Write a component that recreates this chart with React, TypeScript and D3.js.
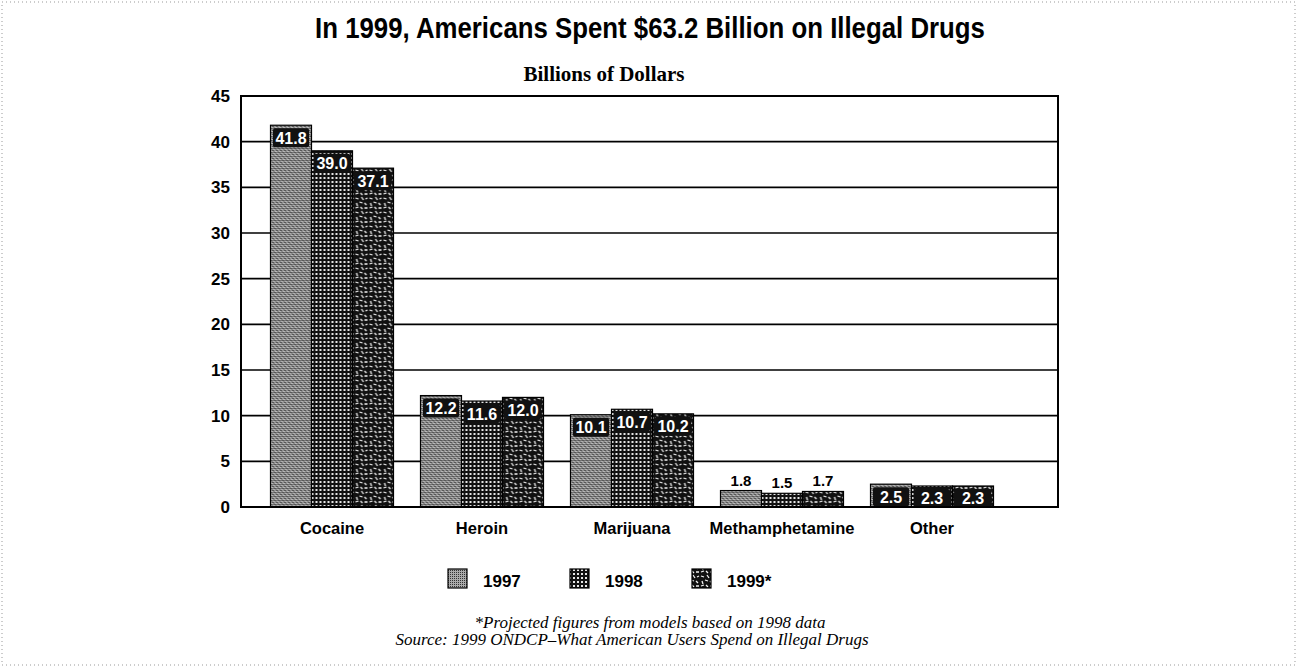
import React from "react";
import * as d3 from "d3";

const categories = ["Cocaine", "Heroin", "Marijuana", "Methamphetamine", "Other"];
const years = ["1997", "1998", "1999*"];
const values1997 = [41.8, 12.2, 10.1, 1.8, 2.5];
const values1998 = [39.0, 11.6, 10.7, 1.5, 2.3];
const values1999 = [37.1, 12.0, 10.2, 1.7, 2.3];
const yTicks = [0, 5, 10, 15, 20, 25, 30, 35, 40, 45];
const title = "In 1999, Americans Spent $63.2 Billion on Illegal Drugs";
const subtitle = "Billions of Dollars";
const note1 = "*Projected figures from models based on 1998 data";
const note2 = "Source:  1999 ONDCP\u2013What American Users Spend on Illegal Drugs";

const W = 1297;
const H = 667;
const L = 241, R = 1058, T = 96, B = 507;

const SANS = "'Liberation Sans', Arial, sans-serif";
const SERIF = "'Liberation Serif', 'Times New Roman', serif";

export default function App() {
  const series = [values1997, values1998, values1999];
  const y = d3.scaleLinear().domain([0, 45]).range([B, T]);
  const x0 = d3.scaleBand<string>().domain(categories).range([270.5, 993.5]).paddingInner(0.18).paddingOuter(0);
  const x1 = d3.scaleBand<string>().domain(years).range([0, x0.bandwidth()]).padding(0);
  const patIds = ["p1997", "p1998", "p1999"];
  const legendX = d3.scalePoint<string>().domain(years).range([448, 692]);

  return (
    <svg width={W} height={H} style={{ display: "block", position: "absolute", left: 0, top: 0, background: "#fff" }}>
      <defs>
        <pattern id="p1997" width="4" height="4" patternUnits="userSpaceOnUse">
          <rect width="4" height="4" fill="#8e8e8e" />
          <rect x="0" y="0" width="1" height="1" fill="#222" />
          <rect x="2" y="2" width="1" height="1" fill="#222" />
          <rect x="2" y="0" width="1" height="1" fill="#555" />
          <rect x="1" y="3" width="1" height="1" fill="#e0e0e0" />
          <rect x="3" y="1" width="1" height="1" fill="#d0d0d0" />
        </pattern>
        <pattern id="p1998" width="4" height="4" patternUnits="userSpaceOnUse">
          <rect width="4" height="4" fill="#111" />
          <rect x="1" y="1" width="2" height="2" fill="#e6e6e6" />
        </pattern>
        <pattern id="p1999" width="14" height="14" patternUnits="userSpaceOnUse">
          <rect width="14" height="14" fill="#111" />
          <path d="M1,2 l3,1 M7,1 l2,3 M11,3 l2,-1 M2,7 l1,3 M5,6 l3,1 M10,7 l2,2 M1,12 l3,-1 M6,11 l2,2 M10,12 l3,0"
            stroke="#f2f2f2" strokeWidth="1.3" fill="none" />
        </pattern>
        <pattern id="pLeg1997" width="2" height="2" patternUnits="userSpaceOnUse">
          <rect width="2" height="2" fill="#aaa" />
          <rect width="1" height="1" fill="#333" />
        </pattern>
      </defs>

      <rect x={2} y={2} width={W - 4} height={H - 4} fill="none" stroke="#999" strokeDasharray="1 3" />

      <text transform="translate(650,38) scale(0.86,1)" textAnchor="middle" fontFamily={SANS} fontWeight="bold" fontSize={30} fill="#000">{title}</text>
      <text x={604} y={81} textAnchor="middle" fontFamily={SERIF} fontWeight="bold" fontSize={21} fill="#000">{subtitle}</text>

      {/* gridlines */}
      {yTicks.map((t) => (
        <line key={t} x1={L} x2={R} y1={y(t)} y2={y(t)} stroke="#000" strokeWidth={1.6} />
      ))}
      {yTicks.map((t) => (
        <text key={"l" + t} x={230} y={y(t) + 6} textAnchor="end" fontFamily={SANS} fontWeight="bold" fontSize={17} fill="#000">{t}</text>
      ))}

      {/* bars */}
      {categories.map((c, ci) => (
        <g key={c} transform={`translate(${x0(c)},0)`}>
          {years.map((yr, si) => {
            const v = series[si][ci];
            const bx = x1(yr)!;
            const bw = x1.bandwidth();
            const top = y(v);
            return (
              <rect key={yr} x={bx} y={top} width={bw} height={B - top} fill={`url(#${patIds[si]})`} stroke="#000" strokeWidth={1.2} />
            );
          })}
        </g>
      ))}

      {/* value labels */}
      {categories.map((c, ci) => (
        <g key={"v" + c} transform={`translate(${x0(c)},0)`}>
          {years.map((yr, si) => {
            const v = series[si][ci];
            const cx = x1(yr)! + x1.bandwidth() / 2;
            const top = y(v);
            const label = v.toFixed(1);
            if (v < 2) {
              return (
                <text key={yr} x={cx} y={top - 5} textAnchor="middle" fontFamily={SANS} fontWeight="bold" fontSize={15} fill="#000">{label}</text>
              );
            }
            return (
              <g key={yr}>
                <rect x={cx - 18} y={top + 3} width={36} height={19} rx={2} fill="#111" />
                <text x={cx} y={top + 18.5} textAnchor="middle" fontFamily={SANS} fontWeight="bold" fontSize={16} fill="#fff">{label}</text>
              </g>
            );
          })}
        </g>
      ))}

      {/* frame */}
      <rect x={L} y={T} width={R - L} height={B - T} fill="none" stroke="#000" strokeWidth={2} />

      {/* category labels */}
      {categories.map((c) => (
        <text key={"c" + c} x={x0(c)! + x0.bandwidth() / 2} y={534} textAnchor="middle" fontFamily={SANS} fontWeight="bold" fontSize={16.5} fill="#000">{c}</text>
      ))}

      {/* legend */}
      {years.map((yr, i) => {
        const lx = legendX(yr)!;
        return (
          <g key={"lg" + yr}>
            <rect x={lx} y={569} width={19} height={19} fill={i === 0 ? "url(#pLeg1997)" : `url(#${patIds[i]})`} stroke="#000" strokeWidth={1.2} />
            <text x={lx + 35} y={587} fontFamily={SANS} fontWeight="bold" fontSize={17} fill="#000">{yr}</text>
          </g>
        );
      })}

      <text x={650} y={628} textAnchor="middle" fontFamily={SERIF} fontStyle="italic" fontSize={17} fill="#000">{note1}</text>
      <text x={632} y={645} textAnchor="middle" fontFamily={SERIF} fontStyle="italic" fontSize={17} fill="#000">{note2}</text>
    </svg>
  );
}
